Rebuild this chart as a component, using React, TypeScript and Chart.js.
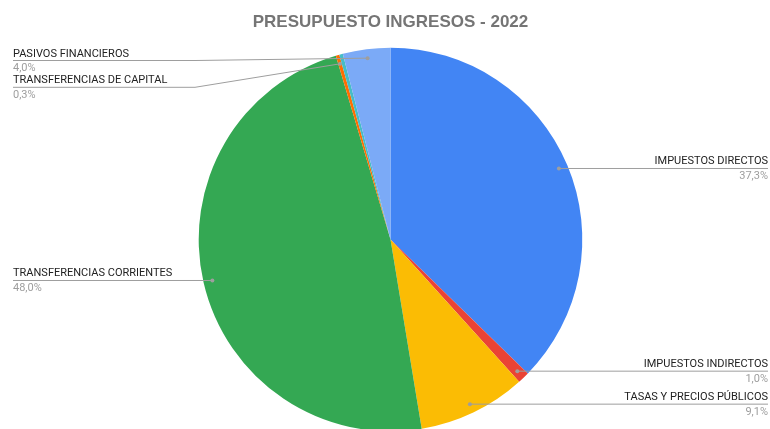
import React, { useEffect, useRef } from "react";
import { Chart, registerables } from "chart.js";

Chart.register(...registerables);

const title = "PRESUPUESTO INGRESOS - 2022";
const categories = [
  "IMPUESTOS DIRECTOS",
  "IMPUESTOS INDIRECTOS",
  "TASAS Y PRECIOS PÚBLICOS",
  "TRANSFERENCIAS CORRIENTES",
  "TRANSFERENCIAS DE CAPITAL",
  "",
  "PASIVOS FINANCIEROS",
];
const values = [37.3, 1.0, 9.1, 48.0, 0.3, 0.3, 4.0];
const colors = ["#4285F4", "#EA4335", "#FBBC04", "#34A853", "#FF6D01", "#46BDC6", "#7BAAF7"];
const showLabel = [true, true, true, true, true, false, true];

// layout-only overrides for stacked labels (line y positions)
const stackedLineY: Record<number, number> = { 4: 87.3, 6: 60.5 };

const labelPlugin = {
  id: "sheetLabels",
  afterDraw(chart: any) {
    const ctx = chart.ctx as CanvasRenderingContext2D;
    ctx.save();
    // title
    ctx.font = "bold 17px Arial, 'Liberation Sans', sans-serif";
    ctx.fillStyle = "#757575";
    ctx.textAlign = "center";
    ctx.textBaseline = "alphabetic";
    ctx.fillText(title, 390.5, 27);

    const meta = chart.getDatasetMeta(0);
    const data = chart.data.datasets[0].data as number[];
    const total = data.reduce((a, b) => a + b, 0);
    meta.data.forEach((arc: any, i: number) => {
      if (!showLabel[i]) return;
      const mid = (arc.startAngle + arc.endAngle) / 2;
      const r = arc.outerRadius * 0.953;
      const dx = arc.x + Math.cos(mid) * r;
      const dy = arc.y + Math.sin(mid) * r;
      const right = Math.cos(mid) >= 0;
      const lineY = stackedLineY[i] !== undefined ? stackedLineY[i] : dy;
      ctx.strokeStyle = "#9e9e9e";
      ctx.lineWidth = 1;
      ctx.beginPath();
      if (right) {
        ctx.moveTo(dx, dy);
        ctx.lineTo(768, lineY);
      } else {
        ctx.moveTo(13, lineY);
        if (Math.abs(lineY - dy) > 0.5) ctx.lineTo(195, lineY);
        ctx.lineTo(dx, dy);
      }
      ctx.stroke();
      ctx.fillStyle = "#9e9e9e";
      ctx.beginPath();
      ctx.arc(dx, dy, 2, 0, Math.PI * 2);
      ctx.fill();

      const pct = ((data[i] / total) * 100).toFixed(1).replace(".", ",") + "%";
      ctx.font = "11px Roboto, Arial, sans-serif";
      ctx.textAlign = right ? "right" : "left";
      const tx = right ? 768 : 13;
      ctx.fillStyle = "#222222";
      ctx.fillText(categories[i], tx, lineY - 4);
      ctx.fillStyle = "#9e9e9e";
      ctx.fillText(pct, tx, lineY + 10.5);
    });
    ctx.restore();
  },
};

export default function App() {
  const ref = useRef<HTMLCanvasElement | null>(null);
  useEffect(() => {
    if (!ref.current) return;
    const chart = new Chart(ref.current, {
      type: "pie",
      data: {
        labels: categories,
        datasets: [
          {
            data: values,
            backgroundColor: colors,
            borderWidth: 0,
            hoverOffset: 0,
            offset: 0,
          },
        ],
      },
      options: {
        responsive: false,
        animation: false,
        devicePixelRatio: 1,
        radius: 191.8,
        layout: { padding: { left: 198.7, right: 187.7, top: 50, bottom: 0 } },
        plugins: {
          legend: { display: false },
          tooltip: { enabled: false },
          title: { display: false },
        },
      } as any,
      plugins: [labelPlugin],
    });
    return () => chart.destroy();
  }, []);
  return (
    <div style={{ position: "absolute", left: 0, top: 0, width: 770, height: 429, background: "#fff" }}>
      <canvas ref={ref} width={770} height={429} style={{ display: "block" }} />
    </div>
  );
}
